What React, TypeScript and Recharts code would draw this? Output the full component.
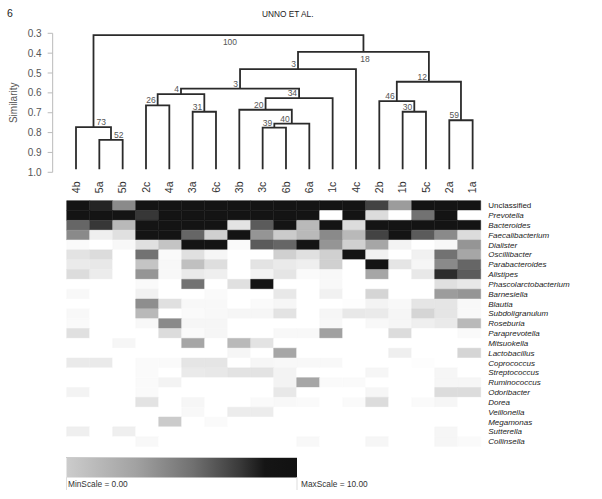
import React from 'react'
import { ComposedChart, Line, Scatter, XAxis, YAxis, BarChart, Bar, Cell } from 'recharts'

// dendrogram leaves, left to right
const samples = ['4b', '5a', '5b', '2c', '4a', '3a', '6c', '3b', '3c', '6b', '6a', '1c', '4c', '2b', '1b', '5c', '2a', '1a']
const leafHeight = 0.985

// hclust-style merges: negative = leaf (1-based position), positive = earlier merge row
const mergeLeft = [-2, -1, -4, -6, 3, -9, 6, -8, 8, 5, 10, -15, -14, -17, 13, 11, 2]
const mergeRight = [-3, 1, -5, -7, 4, -10, -11, 7, -12, 9, -13, -16, 12, -18, 14, 15, 16]
const mergeHeight = [0.837, 0.772, 0.663, 0.695, 0.606, 0.775, 0.755, 0.685, 0.626, 0.579, 0.48, 0.695, 0.642, 0.738, 0.544, 0.394, 0.309]
const bootstrap = [52, 73, 26, 31, 4, 39, 40, 20, 34, 3, 3, 30, 46, 59, 12, 18, 100]
const labelSide = ['right', 'right', 'left', 'left', 'left', 'left', 'left', 'left', 'left', 'left', 'left', 'left', 'left', 'left', 'left', 'below', 'below']

const similarityTicks = [0.3, 0.4, 0.5, 0.6, 0.7, 0.8, 0.9, 1.0]

const genera = [
  'Unclassified', 'Prevotella', 'Bacteroides', 'Faecalibacterium', 'Dialister', 'Oscillibacter',
  'Parabacteroides', 'Alistipes', 'Phascolarctobacterium', 'Barnesiella', 'Blautia', 'Subdoligranulum',
  'Roseburia', 'Paraprevotella', 'Mitsuokella', 'Lactobacillus', 'Coprococcus', 'Streptococcus',
  'Ruminococcus', 'Odoribacter', 'Dorea', 'Veillonella', 'Megamonas', 'Sutterella', 'Collinsella'
]

// abundance per genus (rows) for each sample in leaf order (0-10 scale)
const abundance = [
  [10, 9.3, 5, 10, 10, 10, 10, 10, 10, 10, 10, 10, 10, 8, 4.2, 10, 10, 10], // Unclassified
  [10, 10, 10, 8.5, 10, 10, 10, 10, 10, 10, 10, 0, 10, 1.5, 0, 6, 10, 0], // Prevotella
  [6.5, 8.5, 3, 10, 10, 10, 10, 1.2, 7, 10, 3, 10, 1.5, 10, 10, 10, 10, 10], // Bacteroides
  [5, 0.7, 1.3, 10, 10, 6.5, 2, 10, 4.5, 2.2, 3, 5, 3, 8, 10, 7, 5, 1.5], // Faecalibacterium
  [0.2, 0, 0.3, 1.3, 2.5, 10, 10, 0.2, 7, 6.5, 10, 4.5, 2, 3.8, 0.5, 0, 0.3, 4.5], // Dialister
  [1.2, 1.5, 0, 6, 0.2, 1.3, 0.4, 0, 0, 2, 1.3, 2, 10, 0.6, 0, 0.6, 6, 3.8], // Oscillibacter
  [0.9, 1, 0, 2.5, 0.3, 2.7, 1.4, 0, 1.2, 0.9, 0.7, 2, 0, 10, 1.1, 0.4, 5, 6.5], // Parabacteroides
  [1.5, 0.8, 0, 4.5, 0.3, 0.9, 0.7, 0, 0.5, 1.1, 0.2, 0.3, 0, 3.8, 0, 1, 9, 7], // Alistipes
  [0, 0, 0, 0.2, 0, 6, 0, 1.3, 10, 0, 0, 0.3, 0, 0, 0, 0, 1.3, 1], // Phascolarctobacterium
  [0.3, 0, 0, 0.6, 0, 0, 0.2, 0, 0, 1, 0, 0.6, 0, 1.8, 0, 0, 4.2, 4.5], // Barnesiella
  [0, 0, 0, 4.8, 1.3, 0.3, 0.3, 0, 0.2, 0.4, 0, 0, 0.1, 0.5, 0.3, 1.1, 1.1, 0.3], // Blautia
  [0.3, 0, 0, 3, 0, 0.2, 0.3, 0.4, 0.4, 1.2, 0, 0.4, 1, 0.9, 0.4, 1.8, 1.1, 0.3], // Subdoligranulum
  [0.2, 0, 0, 0.3, 5, 0.4, 0.4, 0, 0, 0, 0, 0.3, 0, 0.3, 0.4, 0.7, 0.9, 3], // Roseburia
  [1.3, 0, 0, 0, 1.5, 0.2, 0.4, 0, 0, 0.3, 0.3, 4, 0, 0, 1.5, 0, 0, 0.2], // Paraprevotella
  [0, 0, 0.4, 0, 0, 3.8, 0, 3, 1.2, 0, 0, 0, 0, 0, 0, 0, 0, 0], // Mitsuokella
  [0, 0, 0, 0, 0, 0, 0, 0.4, 0, 3.8, 0, 0, 0, 0, 0.7, 0, 0, 1.8], // Lactobacillus
  [0.9, 0.9, 0, 0.2, 0.2, 1.1, 1.1, 0, 0.4, 0.3, 0.3, 0.3, 0, 0, 0, 0.1, 0, 0], // Coprococcus
  [0, 0, 0, 0.2, 0, 0.9, 1, 1.2, 1.2, 0.5, 0, 0, 0, 0.4, 0, 0, 0.4, 0], // Streptococcus
  [0, 0, 0, 0.2, 0.5, 0, 0, 0, 0, 0.5, 3.8, 0.2, 0.2, 0, 0, 0, 0.4, 0.4], // Ruminococcus
  [0.5, 0, 0, 0.2, 0, 0, 0, 0, 0, 1, 0, 0, 0, 0.4, 0, 0, 1.5, 1.5], // Odoribacter
  [0, 0, 0, 1.2, 0, 0.4, 0, 0, 0.2, 0.3, 0.2, 0, 0.2, 1.5, 0, 0.2, 0.4, 0], // Dorea
  [0, 0, 0, 0, 0, 0.3, 0, 0.8, 0.8, 0, 0, 0, 0, 0, 0, 0, 0, 0], // Veillonella
  [0, 0, 0, 0, 2.2, 0, 0.2, 0, 0, 0, 0, 0, 0, 0, 0, 0, 0, 0], // Megamonas
  [0.7, 0, 0.7, 0, 0, 0, 0, 0, 0, 0, 0, 0, 0, 0, 0, 0, 0.4, 0], // Sutterella
  [0, 0, 0, 0.3, 0, 0, 0, 0, 0, 0, 0.3, 0, 0, 0.4, 0, 0, 0.4, 0.2] // Collinsella
]

const FONT = 'Arial, "Liberation Sans", Helvetica, sans-serif'

const shade = (v: number) => {
  const k = Math.round(255 - Math.min(v, 10) * 23.5)
  return `rgb(${k},${k},${k})`
}

// walk the merge table to get each node's x (mean of children) and the U-shaped link
const nodeX: number[] = []
const refX = (r: number) => (r < 0 ? -r - 1 : nodeX[r - 1])
const refH = (r: number) => (r < 0 ? leafHeight : mergeHeight[r - 1])
const links = mergeLeft.map((l, i) => {
  const r = mergeRight[i]
  const lx = refX(l)
  const rx = refX(r)
  nodeX[i] = (lx + rx) / 2
  return [
    { x: lx, y: refH(l) },
    { x: lx, y: mergeHeight[i] },
    { x: rx, y: mergeHeight[i] },
    { x: rx, y: refH(r) }
  ]
})
const nodeLabels = bootstrap.map((b, i) => ({ x: nodeX[i], y: mergeHeight[i], bs: b, side: labelSide[i] }))

const heatData = samples.map((s) => {
  const row: Record<string, any> = { sample: s }
  genera.forEach((_, r) => (row['g' + r] = 1))
  return row
})

const LeafTick = ({ x, y, payload }: any) => (
  <g transform={`translate(${x},${y + 15}) rotate(-90)`}>
    <text textAnchor="middle" dy="0.35em" fontSize={10.5} fontFamily={FONT} fill="#333">
      {samples[payload.value]}
    </text>
  </g>
)

const BootLabel = ({ cx, cy, payload }: any) => {
  const side = payload.side
  const anchor = side === 'left' ? 'end' : side === 'right' ? 'start' : 'middle'
  const tx = side === 'left' ? cx - 2 : side === 'right' ? cx + 3 : cx + 1.5
  const ty = side === 'below' ? cy + 10 : cy - 2
  return (
    <text x={tx} y={ty} textAnchor={anchor} fontSize={8.5} fontFamily={FONT} fill="#555">
      {payload.bs}
    </text>
  )
}

const GenusTick = ({ x, y, payload }: any) => {
  const name = genera[Math.floor(payload.value)]
  return (
    <text x={x} y={y} dy="0.33em" fontSize={8} fontFamily={FONT} fill="#222"
      fontStyle={name === 'Unclassified' ? 'normal' : 'italic'}>
      {name}
    </text>
  )
}

export default function App() {
  return (
    <div style={{ position: 'absolute', left: 0, top: 0, width: 602, height: 499, background: '#fff', overflow: 'hidden' }}>
      <div style={{ position: 'absolute', left: 0, top: 0 }}>
        <BarChart width={602} height={460} data={heatData} barCategoryGap={0} barGap={0}
          margin={{ top: 200.7, left: 66.7, right: 0, bottom: 13.5 }}>
          <XAxis dataKey="sample" hide />
          <YAxis type="number" orientation="right" domain={[0, genera.length]} reversed width={121.3}
            ticks={genera.map((_, i) => i + 0.5)} interval={0} axisLine={false} tickLine={false}
            tickSize={0} tickMargin={7.5} tick={(p: any) => <GenusTick {...p} />} />
          {genera.map((g, r) => (
            <Bar key={g} dataKey={'g' + r} stackId="h" isAnimationActive={false}>
              {samples.map((s, c) => (
                <Cell key={s} fill={shade(abundance[r][c])} stroke={shade(abundance[r][c])} strokeWidth={0.5} />
              ))}
            </Bar>
          ))}
        </BarChart>
      </div>

      <div style={{ position: 'absolute', left: 0, top: 0 }}>
        <ComposedChart width={602} height={200} margin={{ top: 33.3, left: 0, right: 117.7, bottom: 0 }}>
          <XAxis dataKey="x" type="number" domain={[-1, 17.5]} allowDataOverflow
            ticks={samples.map((_, i) => i)} interval={0} axisLine={false} tickLine={false}
            tickSize={0} tickMargin={0} height={27.7} tick={(p: any) => <LeafTick {...p} />} />
          <YAxis dataKey="y" type="number" domain={[0.3, 1.0]} reversed allowDataOverflow width={52.67}
            ticks={similarityTicks} interval={0} tickFormatter={(v: number) => v.toFixed(1)}
            axisLine={{ stroke: '#bbb' }} tickLine={{ stroke: '#bbb' }} tickSize={5} tickMargin={6}
            tick={{ fontSize: 10, fill: '#555', fontFamily: FONT }}
            label={{ value: 'Similarity', angle: -90, position: 'center', dx: -13, fontSize: 10, fill: '#555', fontFamily: FONT }} />
          {links.map((pts, i) => (
            <Line key={i} data={pts} dataKey="y" type="linear" stroke="#2b2b2b" strokeWidth={1.8}
              dot={false} activeDot={false} isAnimationActive={false} legendType="none" />
          ))}
          <Scatter data={nodeLabels} dataKey="y" isAnimationActive={false} shape={(p: any) => <BootLabel {...p} />} />
        </ComposedChart>
      </div>

      <svg width={602} height={499} style={{ position: 'absolute', left: 0, top: 0, pointerEvents: 'none' }}>
        <defs>
          <linearGradient id="scale" x1="0" x2="1" y1="0" y2="0">
            <stop offset="0" stopColor="#cccccc" />
            <stop offset="0.3" stopColor="#a2a2a2" />
            <stop offset="0.55" stopColor="#707070" />
            <stop offset="0.75" stopColor="#3a3a3a" />
            <stop offset="0.86" stopColor="#151515" />
            <stop offset="1" stopColor="#111111" />
          </linearGradient>
        </defs>
        <text x={7} y={17} fontSize={10.5} fontFamily={FONT} fill="#222">6</text>
        <text x={262} y={17.3} fontSize={8.3} fontFamily={FONT} fill="#222">UNNO ET AL.</text>
        <rect x={66.5} y={458} width={230.5} height={19.5} fill="url(#scale)" />
        <line x1={66} x2={297} y1={457.5} y2={457.5} stroke="#ccc" strokeWidth={1} />
        <line x1={66.5} x2={66.5} y1={477} y2={490} stroke="#ddd" strokeWidth={1} />
        <line x1={297} x2={297} y1={477} y2={490} stroke="#ddd" strokeWidth={1} />
        <text x={68} y={486.5} fontSize={8.3} fontFamily={FONT} fill="#333">MinScale = 0.00</text>
        <text x={301} y={486.5} fontSize={8.3} fontFamily={FONT} fill="#333">MaxScale = 10.00</text>
      </svg>
    </div>
  )
}
